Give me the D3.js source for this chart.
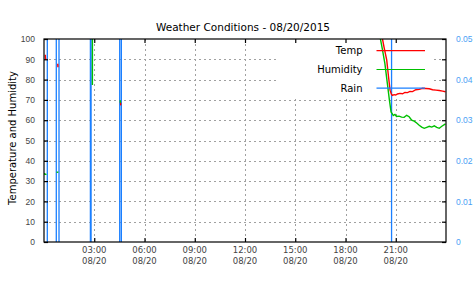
<!DOCTYPE html>
<html>
<head>
<meta charset="utf-8">
<script src="https://cdn.jsdelivr.net/npm/d3@7"></script>
<style>
  body { margin: 0; background: #fff; }
  svg { display: block; font-family: "DejaVu Sans", Verdana, sans-serif; }
  .grid line { stroke: #a0a0a0; stroke-width: 1; stroke-dasharray: 2,3; }
  .tick-label { font-size: 8.5px; fill: #444; }
</style>
</head>
<body>
<div id="chart"></div>
<script>
var svgWidth = 475;
var svgHeight = 300;

var margin = { top: 39, right: 29, bottom: 58, left: 44 };
var width = svgWidth - margin.left - margin.right;
var height = svgHeight - margin.top - margin.bottom;

// readings, hours after midnight on 08/20/2015 (null value = gap in the log)
var tempHours = [0.08, 0.09, 0.15, 0.16,
  0.82, 0.83, 0.87, 0.88,
  4.57, 4.58, 4.59,
  20.14, 20.30, 20.46, 20.56, 20.66, 20.74, 20.80, 20.90, 21.00, 21.10, 21.25, 21.40,
  21.55, 21.70, 21.85, 22.00, 22.20, 22.40, 22.60, 22.80, 23.00, 23.20, 23.40, 23.60, 23.80, 23.97];
var tempValues = [92.2, 90.0, 90.0, null,
  87.8, 86.4, 86.4, null,
  68.8, 67.3, null,
  103, 96, 89.7, 82, 74.8, 72.8, 72.2, 72.6, 72.4, 72.9, 73.2, 73.0,
  73.7, 73.6, 74.2, 74.1, 75.0, 75.2, 75.7, 75.6, 75.5, 75.0, 74.8, 74.6, 74.3, 74.0];

var humidityHours = [0.04, 0.05, 0.15, 0.16,
  0.78, 0.79, 0.86, 0.87,
  2.89, 2.895, 2.9,
  4.55, 4.56, 4.57,
  20.04, 20.20, 20.35, 20.50, 20.62, 20.72, 20.78, 20.85, 20.95, 21.05, 21.20, 21.35,
  21.50, 21.65, 21.80, 21.95, 22.10, 22.25, 22.40, 22.55, 22.70, 22.85, 23.00, 23.15,
  23.30, 23.45, 23.60, 23.75, 23.97];
var humidityValues = [34.0, 33.3, 33.3, null,
  34.0, 34.4, 34.4, null,
  77.3, 130, null,
  69.8, 68.6, null,
  102, 95, 88, 78, 70, 64, 63.4, 62.3, 62.8, 61.8, 62.0, 61.5,
  61.4, 62.4, 61.7, 60.0, 59.5, 58.6, 57.5, 56.6, 56.0, 56.5, 57.0, 56.6,
  57.2, 56.5, 56.0, 57.0, 58.2];

// rain gauge bursts (off scale spikes)
var rainHours = [0.197, 0.197, 0.198,
  0.734, 0.734, 0.735,
  0.896, 0.896, 0.897,
  2.77, 2.77, 2.771,
  2.81, 2.81, 2.811,
  4.52, 4.52, 4.521,
  4.62, 4.62, 4.621,
  20.75, 20.75, 20.751];
var rainValues = [0, 1, null, 0, 1, null, 0, 1, null, 0, 1, null,
  0, 1, null, 0, 1, null, 0, 1, null, 0, 1, null];

var tickHours = [3, 6, 9, 12, 15, 18, 21];
var leftTicks = [0, 10, 20, 30, 40, 50, 60, 70, 80, 90, 100];
var rightTicks = [0, 0.01, 0.02, 0.03, 0.04, 0.05];
var rightMinorTicks = [0.005, 0.015, 0.025, 0.035, 0.045];

var seriesNames = ["Temp", "Humidity", "Rain"];
var seriesColors = ["#ff0000", "#00c000", "#1a7fff"];

var day = new Date(2015, 7, 20);
function toDate(h) { return new Date(day.getTime() + h * 3600000); }

var svg = d3.select("#chart").append("svg")
  .attr("width", svgWidth)
  .attr("height", svgHeight);

var chartGroup = svg.append("g")
  .attr("transform", `translate(${margin.left}, ${margin.top})`);

var xScale = d3.scaleTime()
  .domain([day, toDate(24)])
  .range([0, width]);
var yScale = d3.scaleLinear().domain([0, 100]).range([height, 0]);
var yRainScale = d3.scaleLinear().domain([0, 0.05]).range([height, 0]);

// grid
var grid = chartGroup.append("g").attr("class", "grid");
grid.selectAll(".gy")
  .data(leftTicks.filter(d => d > 0 && d < 100))
  .enter().append("line")
  .attr("x1", 0).attr("x2", width)
  .attr("y1", d => Math.round(yScale(d)) + 0.5)
  .attr("y2", d => Math.round(yScale(d)) + 0.5);
grid.selectAll(".gx")
  .data(tickHours)
  .enter().append("line")
  .attr("y1", 0).attr("y2", height)
  .attr("x1", d => Math.round(xScale(toDate(d))) + 0.5)
  .attr("x2", d => Math.round(xScale(toDate(d))) + 0.5);

// opaque key background
var keyX = xScale(toDate(13.85));
chartGroup.append("rect")
  .attr("x", keyX)
  .attr("y", 0)
  .attr("width", xScale(toDate(23.2)) - keyX)
  .attr("height", yScale(71.5))
  .attr("fill", "#fff");

// clip for data
svg.append("clipPath").attr("id", "plotClip")
  .append("rect").attr("width", width).attr("height", height);

var plotGroup = chartGroup.append("g").attr("clip-path", "url(#plotClip)");

function drawSeries(hours, values, scale, color, w) {
  var pts = hours.map((h, i) => [h, values[i]]);
  var line = d3.line()
    .defined(d => d[1] !== null)
    .x(d => xScale(toDate(d[0])))
    .y(d => scale(d[1]));
  plotGroup.append("path")
    .datum(pts)
    .attr("fill", "none")
    .attr("stroke", color)
    .attr("stroke-width", w)
    .attr("d", line);
}

var keyRows = [50.7, 69.5, 88.2];
function drawKey(i) {
  svg.append("text")
    .attr("x", 362.5)
    .attr("y", keyRows[i] + 3.6)
    .attr("text-anchor", "end")
    .style("font-size", "10px")
    .attr("fill", "#000")
    .text(seriesNames[i]);
  svg.append("line")
    .attr("x1", 376.5).attr("x2", 425)
    .attr("y1", keyRows[i]).attr("y2", keyRows[i])
    .attr("stroke", seriesColors[i])
    .attr("stroke-width", 1.2);
}

drawKey(0);
drawKey(1);
drawKey(2);
drawSeries(rainHours, rainValues, yRainScale, seriesColors[2], 1.3);
drawSeries(tempHours, tempValues, yScale, seriesColors[0], 1.4);
drawSeries(humidityHours, humidityValues, yScale, seriesColors[1], 1.4);

// frame
chartGroup.append("rect")
  .attr("x", 0).attr("y", 0)
  .attr("width", width).attr("height", height)
  .attr("fill", "none")
  .attr("stroke", "#000")
  .attr("stroke-width", 1.2);

// axes (ticks pointing inward)
var bottomAxis = d3.axisBottom(xScale)
  .tickValues(tickHours.map(toDate))
  .tickSize(-4)
  .tickFormat("");
var topAxis = d3.axisTop(xScale)
  .tickValues(tickHours.map(toDate))
  .tickSize(-4)
  .tickFormat("");
var leftAxis = d3.axisLeft(yScale)
  .tickValues(leftTicks)
  .tickSize(-4)
  .tickPadding(9)
  .tickFormat(d3.format("d"));
var rightAxis = d3.axisRight(yRainScale)
  .tickValues(rightTicks.concat(rightMinorTicks))
  .tickSize(-4)
  .tickPadding(10)
  .tickFormat(d => rightTicks.indexOf(d) >= 0 ? d3.format("")(d) : "");

var xAxisG = chartGroup.append("g")
  .attr("transform", `translate(0, ${height})`)
  .call(bottomAxis);
chartGroup.append("g").call(topAxis);
var yAxisG = chartGroup.append("g").call(leftAxis);
var yRightG = chartGroup.append("g")
  .attr("transform", `translate(${width}, 0)`)
  .call(rightAxis);

chartGroup.selectAll("path.domain").remove();
chartGroup.selectAll(".tick line").attr("stroke", "#000").attr("stroke-width", 1.2);

yAxisG.selectAll("text")
  .attr("class", "tick-label")
  .attr("font-family", null).attr("font-size", null);
yRightG.selectAll("text")
  .attr("font-family", null).attr("font-size", null)
  .style("font-size", "8.5px")
  .attr("fill", "#4a9ff5");

// two-line time labels
var fmtTime = d3.timeFormat("%H:%M");
var fmtDay = d3.timeFormat("%m/%d");
var xl = chartGroup.append("g");
tickHours.forEach(function(h) {
  var t = toDate(h);
  var lbl = xl.append("text")
    .attr("class", "tick-label")
    .attr("text-anchor", "middle")
    .attr("x", xScale(t));
  lbl.append("tspan").attr("x", xScale(t)).attr("y", height + 10.5).text(fmtTime(t));
  lbl.append("tspan").attr("x", xScale(t)).attr("y", height + 21.5).text(fmtDay(t));
});

// title and axis label
svg.append("text")
  .attr("x", 243)
  .attr("y", 31)
  .attr("text-anchor", "middle")
  .style("font-size", "10.5px")
  .attr("fill", "#000")
  .text("Weather Conditions - 08/20/2015");

svg.append("text")
  .attr("transform", "translate(16, 138) rotate(-90)")
  .attr("text-anchor", "middle")
  .style("font-size", "10px")
  .attr("fill", "#000")
  .text("Temperature and Humidity");
</script>
</body>
</html>
